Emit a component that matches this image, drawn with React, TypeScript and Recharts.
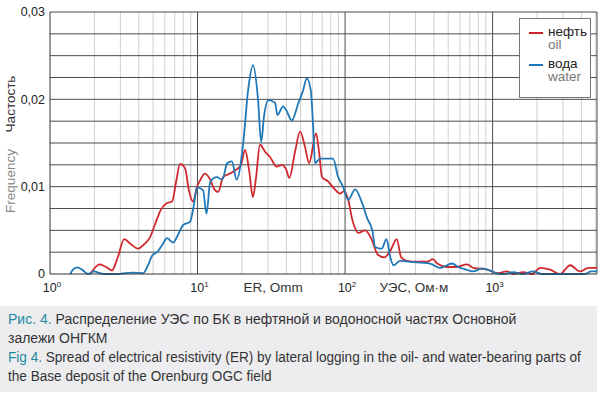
import { LineChart, Line, XAxis, YAxis, ReferenceLine, Legend } from 'recharts';

// УЭС (ER), Ом·м — нефть / oil
const OIL_ER = [
  1.87, 2.18, 2.4, 2.63, 2.89, 3.18, 3.54, 3.95, 4.34, 4.76, 5.23, 5.66, 6.18, 6.72, 7.15, 7.61,
  8.23, 8.76, 9.32, 9.92, 10.4, 11.2, 12.2, 12.9, 13.8, 14.9, 16.6, 18.5, 19.7, 21.0, 22.4, 23.7,
  24.9, 26.5, 28.7, 31.0, 34.4, 37.4, 39.8, 41.9, 45.8, 49.6, 53.6, 57.0, 63.6, 66.6, 69.8, 76.7,
  84.2, 92.5, 98.4, 105, 112, 123, 137, 150, 167, 184, 202, 224, 240, 263, 308, 360, 395, 421,
  491, 566, 672, 738, 918, 1073, 1254, 1377, 1610, 1853, 2099, 2454, 2868, 3353, 3919, 4442, 5100,
];
const OIL_FREQ = [
  0, 0.0011, 0.0008, 0.0004, 0.002, 0.004, 0.0034, 0.0029, 0.0034, 0.0042, 0.006, 0.0074, 0.0081,
  0.0083, 0.0105, 0.0126, 0.0121, 0.0095, 0.0083, 0.01, 0.0107, 0.0115, 0.0108, 0.0098, 0.0094,
  0.0111, 0.0115, 0.012, 0.0125, 0.0142, 0.0118, 0.0088, 0.011, 0.0148, 0.014, 0.0134, 0.0123,
  0.0125, 0.012, 0.011, 0.014, 0.0163, 0.0145, 0.0127, 0.0161, 0.014, 0.0111, 0.0106, 0.0098,
  0.0092, 0.0095, 0.0085, 0.0062, 0.0047, 0.005, 0.0041, 0.0022, 0.0019, 0.0026, 0.004, 0.0019,
  0.0015, 0.0014, 0.0014, 0.0017, 0.0012, 0.0008, 0.0008, 0.0011, 0.0007, 0.0005, 0.0001, 0.0003,
  0, 0.0002, 0, 0.0007, 0.0005, 0, 0.001, 0.0003, 0.0007, 0.0007,
];

// вода / water
const WATER_ER = [
  1.37, 1.43, 1.53, 1.65, 1.81, 1.99, 2.18, 2.36, 2.85, 3.23, 3.65, 4.27, 4.62, 4.92, 5.4, 5.84,
  6.21, 6.82, 7.38, 7.97, 8.9, 9.47, 9.92, 10.9, 11.5, 12.2, 13.5, 14.7, 15.9, 17.1, 18.4, 20.4,
  22.0, 23.8, 25.7, 27.0, 28.2, 30.2, 33.5, 34.8, 38.0, 39.8, 43.5, 48.3, 51.9, 55.0, 58.6, 60.7,
  62.6, 67.7, 82.9, 89.7, 96.9, 105, 117, 130, 141, 153, 160, 177, 191, 202, 213, 236, 276, 323,
  377, 441, 532, 584, 661, 738, 849, 962, 1056, 1178, 1377, 1610, 1882, 2166, 4237, 4655, 5100,
];
const WATER_FREQ = [
  0, 0.0005, 0.00077, 0.0005, 0, 0.0003, 0.0001, 0, 0, 0.0001, 0.00015, 0.0001, 0.001, 0.0021,
  0.0026, 0.0035, 0.0041, 0.0036, 0.0045, 0.0056, 0.006, 0.008, 0.0099, 0.0096, 0.0069, 0.0106,
  0.0111, 0.0108, 0.0127, 0.0129, 0.0108, 0.015, 0.021, 0.0239, 0.02, 0.0151, 0.018, 0.0199,
  0.0196, 0.0182, 0.0192, 0.0188, 0.0176, 0.0196, 0.021, 0.0224, 0.021, 0.017, 0.0127, 0.0132,
  0.0132, 0.0111, 0.01, 0.0085, 0.0097, 0.0082, 0.0064, 0.005, 0.0031, 0.0029, 0.004, 0.002,
  0.001, 0.0015, 0.0014, 0.0013, 0.0012, 0.0007, 0.0012, 0.0008, 0.0005, 0.0003, 0.00065, 0.0004,
  0.0001, 0, 0.0002, 0, 0.0003, 0, 0, 0.0003, 0.0003,
];

const X_TICKS = [1, 10, 100, 1000];
const Y_TICKS = [0, 0.01, 0.02, 0.03];
const Y_GRID = [0.0025, 0.005, 0.0075, 0.01, 0.0125, 0.015, 0.0175, 0.02, 0.0225, 0.025, 0.0275, 0.03];
const X_MINOR = [2, 3, 4, 5, 6, 7, 8, 9, 20, 30, 40, 50, 60, 70, 80, 90, 200, 300, 400, 500, 600, 700, 800, 900, 2000, 3000, 4000, 5000];
const X_MAJOR = [10, 100, 1000, 5100];
const X_DOMAIN = [1, 5100];

const RED = '#d1282e';
const BLUE = '#1f78b8';
const TEAL = '#1d8aa0';
const FONT = '"Liberation Sans", Arial, sans-serif';

const oil = OIL_ER.map((er, i) => ({ er, freq: OIL_FREQ[i] }));
const water = WATER_ER.map((er, i) => ({ er, freq: WATER_FREQ[i] }));

const PowerTick = ({ x, y, payload }: any) => {
  const exp = Math.round(Math.log10(payload.value));
  return (
    <text x={x + 2} y={y + 16} textAnchor="middle" fontSize={12.5} fill="#222" fontFamily={FONT}>
      10
      <tspan fontSize={8} dy={-5}>{exp}</tspan>
    </text>
  );
};

const AxisTitles = ({ viewBox }: any) => {
  const y = viewBox.y + 18;
  return (
    <g fontFamily={FONT} fontSize={13.5} fill="#333">
      <text x={273} y={y} textAnchor="middle">ER, Omm</text>
      <text x={414} y={y} textAnchor="middle">УЭС, Ом·м</text>
    </g>
  );
};

const YTitles = () => {
  const cx = 15;
  return (
    <g fontFamily={FONT} fontSize={13.5}>
      <text x={cx} y={104} fill="#333" textAnchor="middle" transform={`rotate(-90 ${cx} 104)`}>Частость</text>
      <text x={cx} y={181} fill="#888" textAnchor="middle" transform={`rotate(-90 ${cx} 181)`}>Frequency</text>
    </g>
  );
};

const LEGEND_ITEMS = [
  { color: RED, ru: 'нефть', en: 'oil' },
  { color: BLUE, ru: 'вода', en: 'water' },
];

const LegendBox = () => (
  <div
    style={{
      width: 72,
      height: 80,
      border: '1.5px solid #777',
      background: '#fff',
      fontFamily: FONT,
      fontSize: 13.5,
      lineHeight: '13px',
      boxSizing: 'border-box',
      padding: '6px 0 0 9px',
    }}
  >
    {LEGEND_ITEMS.map((it) => (
      <div key={it.ru} style={{ marginBottom: 6 }}>
        <div style={{ display: 'flex', alignItems: 'center', height: 13 }}>
          <span style={{ width: 14, height: 2, background: it.color, marginRight: 5, marginTop: 2, display: 'inline-block' }} />
          <span style={{ color: '#222' }}>{it.ru}</span>
        </div>
        <div style={{ paddingLeft: 19, color: '#777', height: 13 }}>{it.en}</div>
      </div>
    ))}
  </div>
);

export default function App() {
  return (
    <div style={{ position: 'absolute', left: 0, top: 0, width: 600, height: 395, background: '#fff' }}>
      <LineChart width={600} height={300} margin={{ top: 12, right: 3, bottom: 6, left: 0 }}>
        <XAxis
          type="number"
          dataKey="er"
          scale="log"
          domain={X_DOMAIN}
          ticks={X_TICKS}
          allowDataOverflow
          height={20}
          tickLine={false}
          tickSize={0}
          axisLine={{ stroke: '#333' }}
          tick={<PowerTick />}
          label={<AxisTitles />}
        />
        <YAxis
          type="number"
          domain={[0, 0.03]}
          ticks={Y_TICKS}
          width={50}
          tickLine={false}
          tickSize={0}
          tickMargin={5}
          axisLine={{ stroke: '#333' }}
          tick={{ fontSize: 12.5, fill: '#222', fontFamily: FONT }}
          tickFormatter={(v: number) => String(v).replace('.', ',')}
          label={<YTitles />}
        />
        {X_MINOR.map((v) => (
          <ReferenceLine key={`xm${v}`} x={v} stroke="#d0d0d0" strokeWidth={1} />
        ))}
        {Y_GRID.map((v) => (
          <ReferenceLine key={`y${v}`} y={v} stroke="#4d4d4d" strokeWidth={1} />
        ))}
        {X_MAJOR.map((v) => (
          <ReferenceLine key={`xM${v}`} x={v} stroke="#4d4d4d" strokeWidth={1} />
        ))}
        <Line data={oil} dataKey="freq" type="monotoneX" stroke={RED} strokeWidth={1.8} dot={false} isAnimationActive={false} />
        <Line data={water} dataKey="freq" type="monotoneX" stroke={BLUE} strokeWidth={1.8} dot={false} isAnimationActive={false} />
        <Legend
          layout="horizontal"
          align="center"
          verticalAlign="middle"
          content={<LegendBox />}
          wrapperStyle={{ left: 519, top: 18, width: 72, height: 80 }}
        />
      </LineChart>
      <div
        style={{
          position: 'absolute',
          left: 0,
          top: 306,
          width: 597,
          height: 86,
          background: '#ededf0',
          fontFamily: FONT,
          fontSize: 14,
          color: '#333',
          lineHeight: '19px',
          padding: '4px 0 0 8px',
          boxSizing: 'border-box',
          whiteSpace: 'nowrap',
        }}
      >
        <div style={{ transform: 'scaleX(1)', transformOrigin: 'left top' }}>
          <span style={{ color: TEAL }}>Рис. 4.</span> Распределение УЭС по БК в нефтяной и водоносной частях Основной
          <br />
          залежи ОНГКМ
        </div>
        <div style={{ transform: 'scaleX(0.97)', transformOrigin: 'left top' }}>
          <span style={{ color: TEAL }}>Fig 4.</span> Spread of electrical resistivity (ER) by lateral logging in the oil- and water-bearing parts of
          <br />
          the Base deposit of the Orenburg OGC field
        </div>
      </div>
    </div>
  );
}
